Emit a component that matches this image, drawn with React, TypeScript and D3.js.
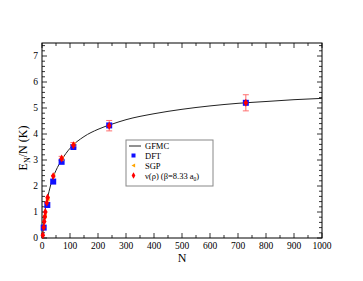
import React from "react";
import * as d3 from "d3";

const gfmcN = [3, 5, 8, 10, 15, 20, 30, 40, 50, 70, 100, 150, 200, 250, 300, 400, 500, 600, 700, 800, 900, 1000];
const gfmcE = [0.15, 0.45, 0.8, 1.0, 1.3, 1.55, 2.0, 2.35, 2.6, 3.0, 3.45, 3.9, 4.18, 4.38, 4.55, 4.78, 4.95, 5.08, 5.18, 5.25, 5.32, 5.37];

const dftN = [6, 19, 40, 70, 112, 240, 728];
const dftE = [0.4, 1.27, 2.17, 2.93, 3.5, 4.33, 5.2];

const sgpN = [10, 20, 40, 70, 112];
const sgpE = [0.85, 1.5, 2.4, 3.05, 3.6];

const nuN = [3, 6, 8, 10, 12, 17, 20, 40, 70, 112, 240, 728];
const nuE = [0.11, 0.41, 0.63, 0.82, 1.0, 1.36, 1.56, 2.38, 3.06, 3.57, 4.32, 5.2];
const nuErr = [0, 0, 0, 0, 0, 0, 0, 0, 0.08, 0.1, 0.2, 0.31];

const xTicks = [0, 100, 200, 300, 400, 500, 600, 700, 800, 900, 1000];
const yTicks = [0, 1, 2, 3, 4, 5, 6, 7];

const legendLabels = ["GFMC", "DFT", "SGP"];

export default function App() {
  const L = 42, R = 322, T = 43, B = 238;
  const x = d3.scaleLinear().domain([0, 1000]).range([L, R]);
  const y = d3.scaleLinear().domain([0, 7.5]).range([B, T]);
  const font = "'Liberation Serif', 'Times New Roman', serif";

  const line = d3.line<number>()
    .x((_, i) => x(gfmcN[i]))
    .y((d) => y(d))
    .curve(d3.curveMonotoneX);

  const xMinor = d3.range(0, 1001, 50);
  const yMinor = d3.range(0, 7.51, 0.2);

  const diamond = d3.symbol().type(d3.symbolDiamond).size(18)() as string;
  const tri = (cx: number, cy: number, s: number) =>
    `M${cx - s},${cy}L${cx + s * 0.8},${cy - s}L${cx + s * 0.8},${cy + s}Z`;

  return (
    <svg width={363} height={281} style={{ display: "block", position: "absolute", left: 0, top: 0 }} fontFamily={font}>
      <rect width={363} height={281} fill="white" />
      {xMinor.map((v) => {
        const major = v % 100 === 0;
        const len = major ? 5 : 3;
        return (
          <g key={"xt" + v} stroke="black" strokeWidth={0.8}>
            <line x1={x(v)} x2={x(v)} y1={B} y2={B - len} />
            <line x1={x(v)} x2={x(v)} y1={T} y2={T + len} />
          </g>
        );
      })}
      {yMinor.map((v, i) => {
        const major = i % 5 === 0;
        const len = major ? 5 : 3;
        return (
          <g key={"yt" + i} stroke="black" strokeWidth={0.8}>
            <line x1={L} x2={L + len} y1={y(v)} y2={y(v)} />
            <line x1={R} x2={R - len} y1={y(v)} y2={y(v)} />
          </g>
        );
      })}
      <rect x={L} y={T} width={R - L} height={B - T} fill="none" stroke="black" strokeWidth={1} />
      {xTicks.map((v) => (
        <text key={"xl" + v} x={x(v)} y={B + 11} fontSize={9.5} textAnchor="middle">{v}</text>
      ))}
      {yTicks.map((v) => (
        <text key={"yl" + v} x={L - 4} y={y(v) + 3.3} fontSize={9.5} textAnchor="end">{v}</text>
      ))}
      <text x={(L + R) / 2} y={B + 24} fontSize={12} textAnchor="middle">N</text>
      <text transform={`translate(27,148) rotate(-90)`} fontSize={12} textAnchor="middle">
        E<tspan fontSize={8} dy={3}>N</tspan><tspan dy={-3}>/N (K)</tspan>
      </text>

      <path d={line(gfmcE) as string} fill="none" stroke="#222" strokeWidth={1} />

      {nuN.map((n, i) => nuErr[i] > 0 ? (
        <g key={"eb" + i} stroke="#ff6f6f" strokeWidth={1}>
          <line x1={x(n)} x2={x(n)} y1={y(nuE[i] - nuErr[i])} y2={y(nuE[i] + nuErr[i])} />
          <line x1={x(n) - 3} x2={x(n) + 3} y1={y(nuE[i] - nuErr[i])} y2={y(nuE[i] - nuErr[i])} />
          <line x1={x(n) - 3} x2={x(n) + 3} y1={y(nuE[i] + nuErr[i])} y2={y(nuE[i] + nuErr[i])} />
        </g>
      ) : null)}

      {dftN.map((n, i) => (
        <rect key={"d" + i} x={x(n) - 3} y={y(dftE[i]) - 3} width={6} height={6} fill="#1010ff" />
      ))}
      {sgpN.map((n, i) => (
        <path key={"s" + i} d={tri(x(n), y(sgpE[i]), 2.5)} fill="#ffa500" />
      ))}
      {nuN.map((n, i) => (
        <path key={"v" + i} d={diamond} transform={`translate(${x(n)},${y(nuE[i])})`} fill="#ff0000" />
      ))}

      <g>
        <rect x={126} y={140} width={87} height={46} fill="white" stroke="#888" strokeWidth={1} />
        <line x1={129} x2={141} y1={146} y2={146} stroke="#222" strokeWidth={1} />
        <rect x={131.5} y={153.5} width={4} height={4} fill="#1010ff" />
        <path d={tri(133.5, 165.5, 2)} fill="#ffa500" />
        <path d={diamond} transform="translate(133.5,175.5) scale(0.8)" fill="#ff0000" />
        {legendLabels.map((t, i) => (
          <text key={t} x={145} y={149 + i * 9.8} fontSize={8.5}>{t}</text>
        ))}
        <text x={145} y={178.5} fontSize={8.5}>
          ν(ρ) (β=8.33 a<tspan fontSize={5.5} dy={2}>0</tspan><tspan dy={-2}>)</tspan>
        </text>
      </g>
    </svg>
  );
}
